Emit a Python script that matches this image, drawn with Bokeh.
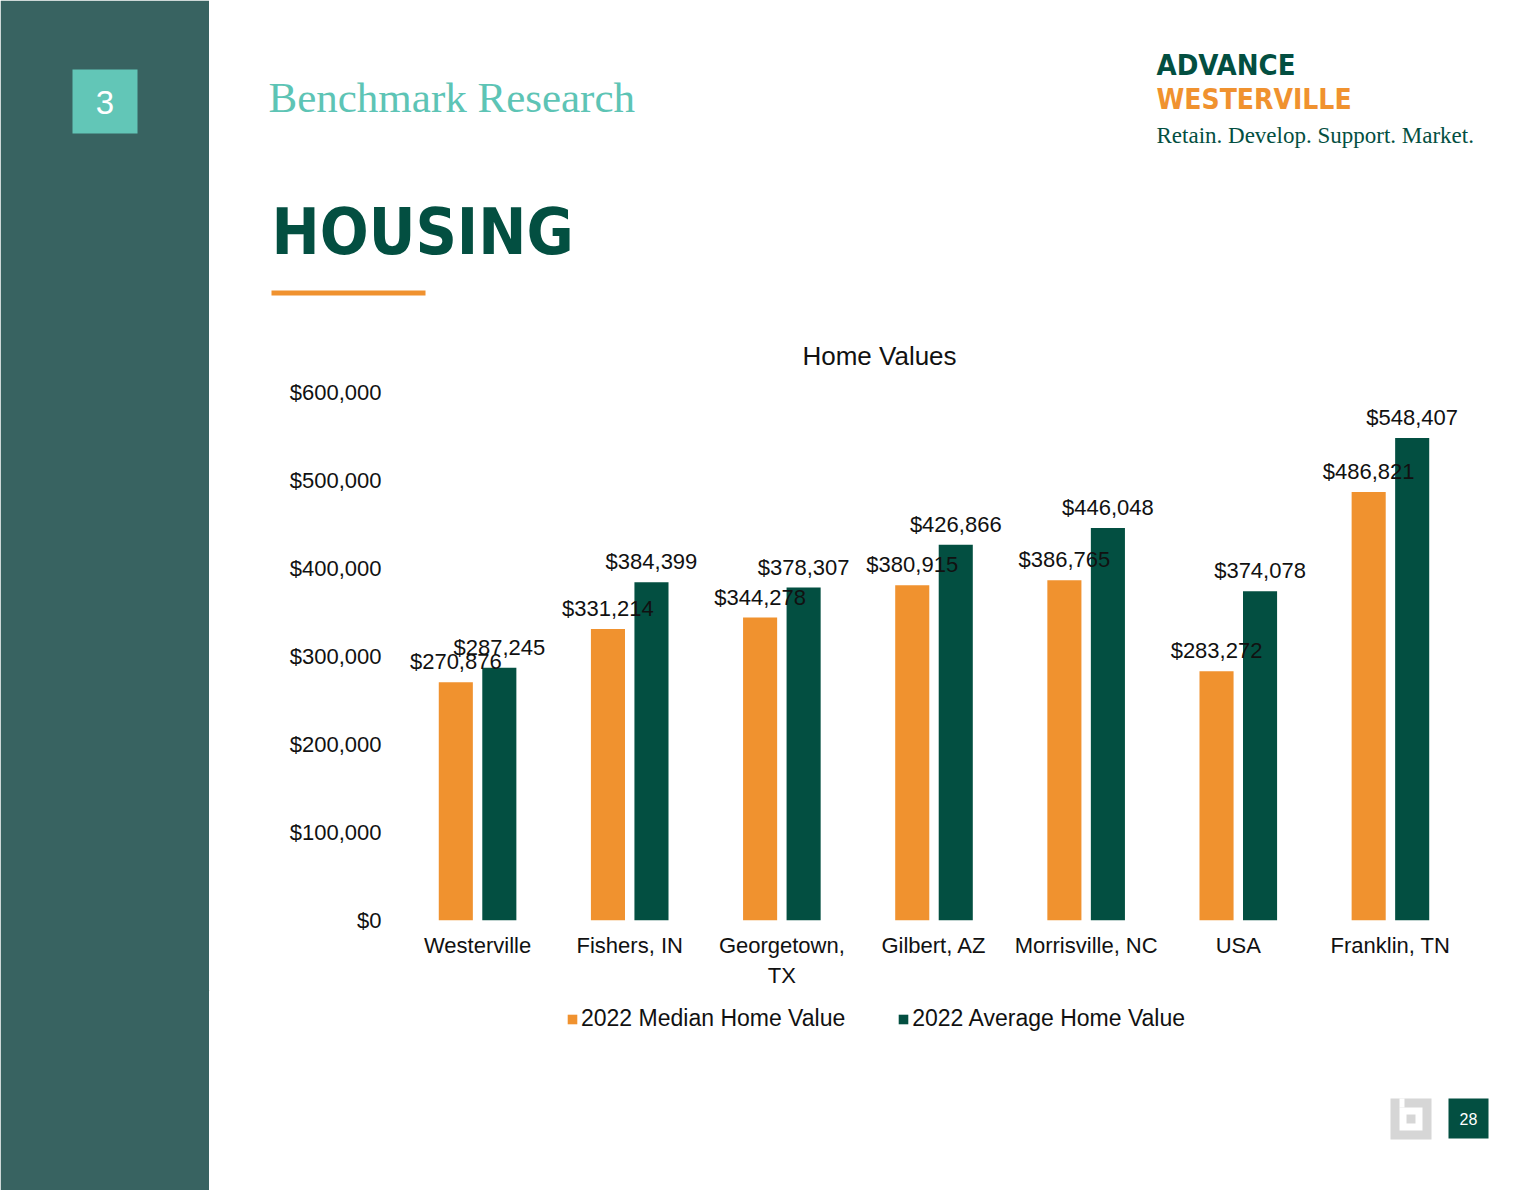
from bokeh.plotting import figure
from bokeh.layouts import row, column
from bokeh.models import (ColumnDataSource, FactorRange, Range1d, Label, LabelSet,
                          Legend, LegendItem, NumeralTickFormatter, FixedTicker)
from bokeh.core.properties import value
from bokeh.transform import dodge
from bokeh.embed import file_html
from bokeh.resources import INLINE

# ---------------- data ----------------
cities = ["Westerville", "Fishers, IN", "Georgetown,\nTX", "Gilbert, AZ",
          "Morrisville, NC", "USA", "Franklin, TN"]
median_2022 = [270876, 331214, 344278, 380915, 386765, 283272, 486821]
average_2022 = [287245, 384399, 378307, 426866, 446048, 374078, 548407]
y_ticks = [0, 100000, 200000, 300000, 400000, 500000, 600000]
series_names = ["2022 Median Home Value", "2022 Average Home Value"]
chart_title = "Home Values"

# ---------------- style ----------------
ORANGE = "#F0922F"
DARK = "#034F41"
SIDEBAR = "#386361"
TEAL = "#62C6B7"
TEAL_TEXT = "#5DC4B5"
GREY = "#D6D6D6"
TXT = "#111111"
SANS = "Liberation Sans"
SERIF = "Liberation Serif"
NARROW = "DejaVu Sans Condensed"

W, H = 1540, 1190
SIDE_W = 209
HEAD_H = 375
FOOT_Y = 990
FL, FR, FT, FB = 401, 1466, 392, 921   # plot-area edges in page pixels


def no_align(f):
    try:
        f.frame_align = False
    except AttributeError:
        pass


def blank(x0, x1, y0, y1):
    f = figure(width=x1 - x0, height=y1 - y0, x_range=Range1d(x0, x1), y_range=Range1d(y1, y0),
               x_axis_location=None, y_axis_location=None, output_backend="svg",
               toolbar_location=None, min_border=0)
    f.min_border_left = f.min_border_right = f.min_border_top = f.min_border_bottom = 0
    f.outline_line_color = None
    f.grid.visible = False
    f.background_fill_color = "white"
    f.border_fill_color = "white"
    no_align(f)
    return f


def box(f, l, t, r, b, color):
    f.quad(left=l, right=r, top=t, bottom=b, fill_color=color, line_color=None)


def text(f, x, y, s, size, color, font=SANS, style="normal", align="left"):
    f.add_layout(Label(x=x, y=y, text=s, text_font=font, text_font_size=size,
                       text_color=color, text_font_style=style, text_align=align,
                       text_baseline="middle"))


# ---------------- sidebar ----------------
side = blank(0, SIDE_W, 0, H)
box(side, 0, 0, SIDE_W, H, SIDEBAR)
box(side, 72, 69, 137, 133, TEAL)
text(side, 104.5, 101.5, "3", "33px", "white", align="center")

# ---------------- header ----------------
head = blank(SIDE_W, W, 0, HEAD_H)
text(head, 268, 97, "Benchmark Research", "43px", TEAL_TEXT, font=SERIF)
text(head, 271, 231.7, "HOUSING", "64px", DARK, font=NARROW, style="bold")
box(head, 271, 290, 425, 295, ORANGE)
text(head, 1156, 64.5, "ADVANCE", "29px", DARK, font=NARROW, style="bold")
text(head, 1156, 98.9, "WESTERVILLE", "28px", ORANGE, font=NARROW, style="bold")
text(head, 1156, 135, "Retain. Develop. Support. Market.", "23px", DARK, font=SERIF)
text(head, 879, 355, chart_title, "26px", TXT, align="center")

# ---------------- chart ----------------
p = figure(width=W - SIDE_W, height=FOOT_Y - HEAD_H,
           x_range=FactorRange(*cities), y_range=Range1d(0, 600000),
           output_backend="svg", toolbar_location=None,
           min_border_left=FL - SIDE_W, min_border_right=W - FR,
           min_border_top=FT - HEAD_H, min_border_bottom=FOOT_Y - FB)
no_align(p)
p.background_fill_color = "white"
p.border_fill_color = "white"
p.outline_line_color = None
p.xgrid.visible = False
p.ygrid.visible = False

src = ColumnDataSource(dict(
    city=cities, median=median_2022, average=average_2022,
    median_lbl=["${:,}".format(v) for v in median_2022],
    average_lbl=["${:,}".format(v) for v in average_2022],
))

OFF, BW = 0.143, 0.224
p.vbar(x=dodge("city", -OFF, range=p.x_range), top="median", width=BW,
       source=src, fill_color=ORANGE, line_color=None)
p.vbar(x=dodge("city", OFF, range=p.x_range), top="average", width=BW,
       source=src, fill_color=DARK, line_color=None)

for fld, off in (("median", -OFF), ("average", OFF)):
    p.add_layout(LabelSet(x=dodge("city", off, range=p.x_range), y=fld, text=fld + "_lbl",
                          source=src, text_align="center", text_baseline="alphabetic",
                          y_offset=13, text_font_size=value("22px"), text_font=value(SANS),
                          text_color=TXT))

p.yaxis.ticker = FixedTicker(ticks=y_ticks)
p.yaxis.formatter = NumeralTickFormatter(format="$0,0")
for ax in (p.xaxis[0], p.yaxis[0]):
    ax.axis_line_color = None
    ax.major_tick_line_color = None
    ax.minor_tick_line_color = None
    ax.major_tick_out = 0
    ax.major_tick_in = 0
    ax.major_label_text_font = SANS
    ax.major_label_text_font_size = "22px"
    ax.major_label_text_color = TXT
p.yaxis.major_label_standoff = 20
p.xaxis.major_label_standoff = 12

# ---------------- footer: legend + page marks ----------------
foot = blank(SIDE_W, W, FOOT_Y, H)
# legend key proxies (one off-screen zero-height bar each, so the keys get painted)
leg_src = ColumnDataSource(dict(x=[-1000], top=[0], bottom=[0]))
k1 = foot.vbar(x="x", top="top", bottom="bottom", width=1, source=leg_src,
               fill_color=ORANGE, line_color=None)
k2 = foot.vbar(x="x", top="top", bottom="bottom", width=1, source=leg_src,
               fill_color=DARK, line_color=None)
legend = Legend(items=[LegendItem(label=series_names[0], renderers=[k1]),
                       LegendItem(label=series_names[1], renderers=[k2])],
                orientation="horizontal", location=(566 - SIDE_W, 158),
                glyph_width=12, glyph_height=12, label_standoff=3, spacing=52,
                padding=0, margin=0, border_line_color=None, background_fill_alpha=0,
                label_text_font=SANS, label_text_font_size="23px", label_text_color=TXT)
foot.add_layout(legend, "center")

box(foot, 1390, 1098, 1431, 1139, GREY)
box(foot, 1399, 1107, 1422, 1130, "white")
box(foot, 1399, 1098, 1404, 1107, "white")
box(foot, 1406, 1114, 1415, 1123, GREY)
box(foot, 1448, 1098, 1488, 1138, DARK)
text(foot, 1468, 1118.8, "28", "16px", "white", align="center")

page = row(side, column(head, p, foot, spacing=0), spacing=0)
open("out.html", "w").write(file_html(page, INLINE))
